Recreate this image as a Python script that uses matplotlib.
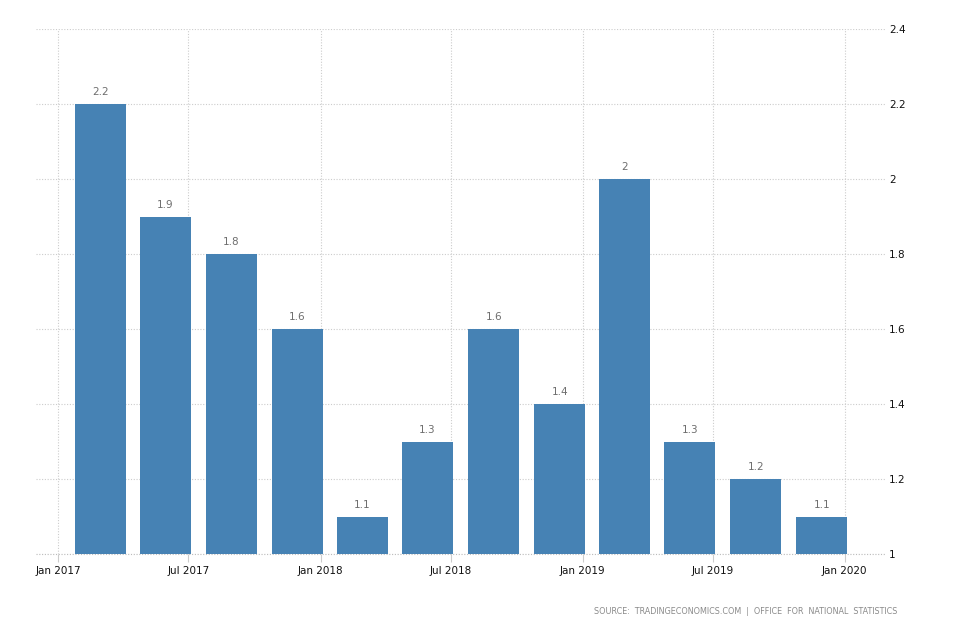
import matplotlib
matplotlib.use("Agg")
import matplotlib.pyplot as plt
import matplotlib.dates as mdates
import numpy as np
import pandas as pd

# Data
quarters = ["2017Q1", "2017Q2", "2017Q3", "2017Q4",
            "2018Q1", "2018Q2", "2018Q3", "2018Q4",
            "2019Q1", "2019Q2", "2019Q3", "2019Q4"]
values = [2.2, 1.9, 1.8, 1.6, 1.1, 1.3, 1.6, 1.4, 2.0, 1.3, 1.2, 1.1]
value_labels = ["2.2", "1.9", "1.8", "1.6", "1.1", "1.3", "1.6", "1.4", "2", "1.3", "1.2", "1.1"]
xtick_dates = ["2017-01-01", "2017-07-01", "2018-01-01", "2018-07-01",
               "2019-01-01", "2019-07-01", "2020-01-01"]
xtick_labels = ["Jan 2017", "Jul 2017", "Jan 2018", "Jul 2018",
                "Jan 2019", "Jul 2019", "Jan 2020"]
yticks = [1, 1.2, 1.4, 1.6, 1.8, 2, 2.2, 2.4]
ytick_labels = ["1", "1.2", "1.4", "1.6", "1.8", "2", "2.2", "2.4"]
source = "SOURCE:  TRADINGECONOMICS.COM  |  OFFICE  FOR  NATIONAL  STATISTICS"

plt.rcParams['font.family'] = ['DejaVu Sans']

fig = plt.figure(figsize=(9.54, 6.36), dpi=100)
ax = fig.add_axes([35.5 / 954, 1 - 554 / 636, (885 - 35.5) / 954, (554 - 29.3) / 636])

# bar centres: quarter end minus 31 days
qend = pd.PeriodIndex(quarters, freq="Q").end_time.normalize()
centers = mdates.date2num(qend.to_pydatetime()) - 31
width = 71
bottom = 1.0
ax.bar(centers, np.array(values) - bottom, bottom=bottom, width=width,
       color="#4682b4", zorder=3, linewidth=0)

for c, v, lab in zip(centers, values, value_labels):
    ax.annotate(lab, (c, v), xytext=(0, 5), textcoords="offset points",
                ha="center", va="bottom", fontsize=7.5, color="#6e6e6e", zorder=4)

ax.set_ylim(1, 2.4)
xmin = mdates.date2num(pd.Timestamp("2016-11-30"))
xmax = mdates.date2num(pd.Timestamp("2020-02-26"))
ax.set_xlim(xmin, xmax)

xt = mdates.date2num(pd.to_datetime(xtick_dates).to_pydatetime())
ax.set_xticks(xt)
ax.set_xticklabels(xtick_labels, fontsize=7.5, color="#111111")
ax.set_yticks(yticks)
ax.set_yticklabels(ytick_labels, fontsize=7.5, color="#111111")

ax.yaxis.tick_right()
ax.tick_params(axis="y", length=0, pad=3)
ax.tick_params(axis="x", length=5.5, width=0.8, color="#cccccc", pad=3)

for s in ["top", "right", "left", "bottom"]:
    ax.spines[s].set_visible(False)
ax.axhline(1, linestyle=(0, (1, 1.5)), color="#bbbbbb", linewidth=0.8,
           clip_on=False, zorder=2)

ax.grid(True, axis="both", linestyle=(0, (1, 1.5)), color="#cccccc", linewidth=0.8, zorder=0)
ax.set_axisbelow(True)

fig.text(897 / 954, 1 - 612 / 636, source, ha="right", va="center",
         fontsize=5.8, color="#8a8a8a")

fig.savefig("out.png", dpi=100)
